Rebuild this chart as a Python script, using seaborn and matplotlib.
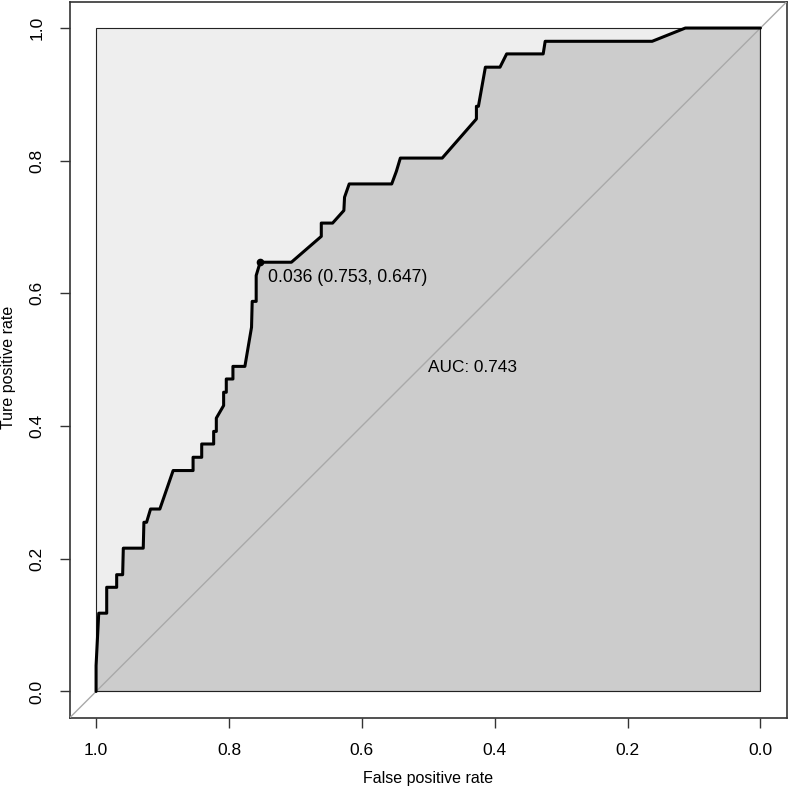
import numpy as np
import matplotlib
matplotlib.use('Agg')
import matplotlib.pyplot as plt
import pandas as pd
import seaborn as sns


# ------------------
# データ
# ------------------
SPEC = [1.0, 1.0, 0.996, 0.984, 0.984, 0.969, 0.969, 0.960, 0.959, 0.929,
        0.928, 0.924, 0.918, 0.904, 0.884, 0.854, 0.854, 0.841, 0.841, 0.823,
        0.823, 0.819, 0.819, 0.808, 0.808, 0.804, 0.804, 0.794, 0.794, 0.776,
        0.766, 0.765, 0.759, 0.759, 0.753, 0.706, 0.661, 0.661, 0.644, 0.627,
        0.626, 0.619, 0.555, 0.548, 0.542, 0.479, 0.4275, 0.4275, 0.4245, 0.414,
        0.392, 0.382, 0.327, 0.324, 0.163, 0.113, 0.0]
SENS = [0.0, 0.039, 0.118, 0.118, 0.157, 0.157, 0.176, 0.176, 0.216, 0.216,
        0.255, 0.255, 0.275, 0.275, 0.333, 0.333, 0.353, 0.353, 0.373, 0.373,
        0.392, 0.392, 0.412, 0.431, 0.451, 0.451, 0.471, 0.471, 0.490, 0.490,
        0.549, 0.588, 0.588, 0.627, 0.647, 0.647, 0.686, 0.706, 0.706, 0.725,
        0.745, 0.765, 0.765, 0.784, 0.804, 0.804, 0.863, 0.882, 0.882, 0.941,
        0.941, 0.961, 0.961, 0.980, 0.980, 1.0, 1.0]

BEST_THRESHOLD = 0.036
BEST_SPEC = 0.753
BEST_SENS = 0.647
AUC = 0.743
TICKS = [0.0, 0.2, 0.4, 0.6, 0.8, 1.0]


def main():
    sns.set_style('white')
    plt.rcParams['font.family'] = ['Liberation Sans', 'DejaVu Sans']
    plt.rcParams['text.color'] = 'black'
    plt.rcParams['axes.labelcolor'] = 'black'
    plt.rcParams['xtick.color'] = 'black'
    plt.rcParams['ytick.color'] = 'black'

    df = pd.DataFrame({'spec': SPEC, 'sens': SENS})

    fig = plt.figure(figsize=(7.88, 7.92), dpi=100)
    ax = fig.add_axes([69.5 / 788, 74 / 792, 717.5 / 788, 716.5 / 792])

    # 最大AUC領域 (薄い灰色)
    ax.fill([1, 0, 0, 1], [0, 0, 1, 1], facecolor='#EEEEEE',
            edgecolor='#222222', linewidth=0.8, zorder=1)

    # AUC領域
    px = list(df['spec']) + [0.0, 1.0]
    py = list(df['sens']) + [0.0, 0.0]
    ax.fill(px, py, facecolor='#CCCCCC', edgecolor='#222222',
            linewidth=0.8, zorder=2)

    # 対角線
    ax.plot([1.04, -0.04], [-0.04, 1.04], color='#A9A9A9', linewidth=1.0, zorder=3)

    # ROC曲線
    sns.lineplot(data=df, x='spec', y='sens', sort=False, estimator=None,
                 color='black', linewidth=2.2, ax=ax, zorder=4)

    # 最適閾値
    ax.plot([BEST_SPEC], [BEST_SENS], 'o', color='black', markersize=4.5, zorder=5)
    ax.text(BEST_SPEC - 0.012, BEST_SENS - 0.01,
            '%.3f (%.3f, %.3f)' % (BEST_THRESHOLD, BEST_SPEC, BEST_SENS),
            ha='left', va='top', fontsize=12.7, zorder=6)

    ax.text(0.5, 0.5, 'AUC: %.3f' % AUC, ha='left', va='top', fontsize=12.4, zorder=6)

    ax.set_xlim(1.04, -0.04)
    ax.set_ylim(-0.04, 1.04)
    ax.set_xticks(TICKS)
    ax.set_yticks(TICKS)
    ax.set_xticklabels(['%.1f' % t for t in TICKS], fontsize=12.5)
    ax.set_yticklabels(['%.1f' % t for t in TICKS], fontsize=12.5,
                       rotation=90, va='center')
    ax.tick_params(axis='both', direction='out', length=7, width=1,
                   color='#333333', pad=11, bottom=True, left=True)
    ax.set_xlabel('False positive rate', fontsize=11.5)
    ax.set_ylabel('Ture positive rate', fontsize=11.5)
    ax.xaxis.set_label_coords(0.5, -0.074)
    ax.yaxis.label.set_va('center')
    ax.yaxis.set_label_coords(-0.085, 0.49)

    for s in ax.spines.values():
        s.set_visible(True)
        s.set_color('#333333')
        s.set_linewidth(1.2)

    fig.savefig('out.png', dpi=100)


if __name__ == '__main__':
    main()
